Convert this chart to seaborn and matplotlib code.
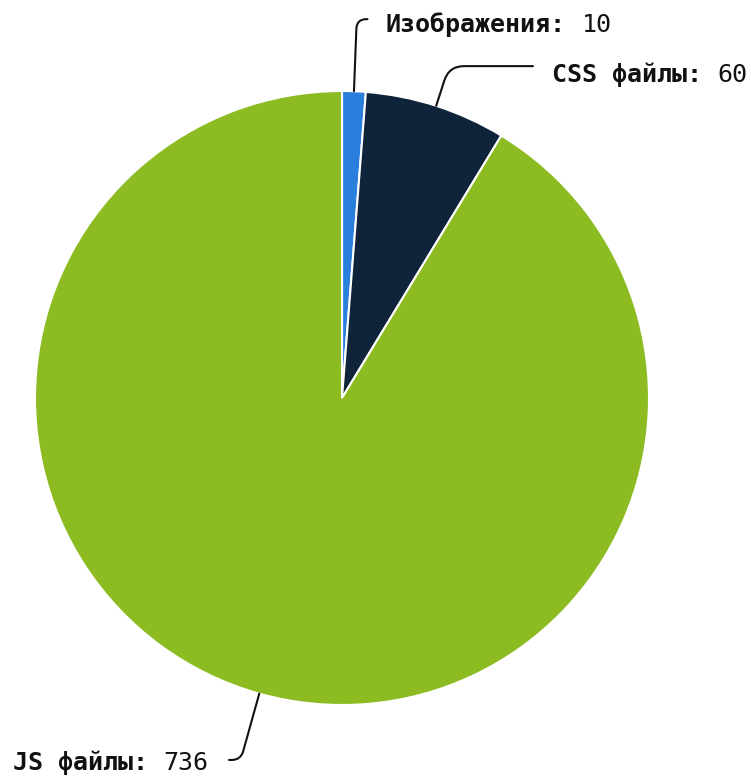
import numpy as np
import matplotlib
matplotlib.use("Agg")
import matplotlib.pyplot as plt
import seaborn as sns

# данные
names = ["Изображения", "CSS файлы", "JS файлы"]
values = [10, 60, 736]
colors = ["#2b7fdc", "#0f233a", "#8cbb22"]

# размещение подписей (в единицах радиуса): начало текста, базовая линия, конец выноски
label_x = [0.143, 0.684, -1.072]
label_y = [1.192, 1.029, -1.212]
conn_end = [(0.083, 1.234), (0.622, 1.081), (-0.368, -1.179)]
corner_rad = [9.5, 15, 9]

sns.set_style("white")
plt.rcParams['font.family'] = ['DejaVu Sans Mono', 'DejaVu Sans']

DPI = 100
FS = 18  # pt
fig = plt.figure(figsize=(7.51, 7.76), dpi=DPI)
ax = fig.add_axes([0, 0, 1, 1])

wedges, _ = ax.pie(values, colors=sns.color_palette(colors), startangle=90,
                   counterclock=False, radius=1,
                   wedgeprops=dict(edgecolor="white", linewidth=1.5))

ax.set_xlim(-342 / 307, (751 - 342) / 307)
ax.set_ylim(-(776 - 398) / 307, 398 / 307)
ax.set_aspect("equal")
ax.axis("off")

# ширина символа моноширинного шрифта в пунктах
cw = 0.602 * FS

total = sum(values)
start = 90.0
for i, (name, val) in enumerate(zip(names, values)):
    span = val / total * 360
    mid = np.deg2rad(start - span / 2)
    start -= span
    edge = (np.cos(mid), np.sin(mid))
    ang_b = np.rad2deg(mid)

    ax.annotate("", xy=edge, xytext=conn_end[i],
                arrowprops=dict(arrowstyle="-", color="#111111", lw=1.5,
                                shrinkA=0, shrinkB=0,
                                connectionstyle=f"angle,angleA=0,angleB={ang_b:.1f},rad={corner_rad[i]}"))

    bold_part = name + ":"
    reg_part = str(val)
    ax.annotate(bold_part, xy=(label_x[i], label_y[i]), fontsize=FS,
                fontweight="bold", ha="left", va="baseline", color="#111111")
    ax.annotate(reg_part, xy=(label_x[i], label_y[i]),
                xytext=((len(bold_part) + 1) * cw, 0), textcoords="offset points",
                fontsize=FS, ha="left", va="baseline", color="#111111")

fig.savefig("out.png", dpi=DPI)
